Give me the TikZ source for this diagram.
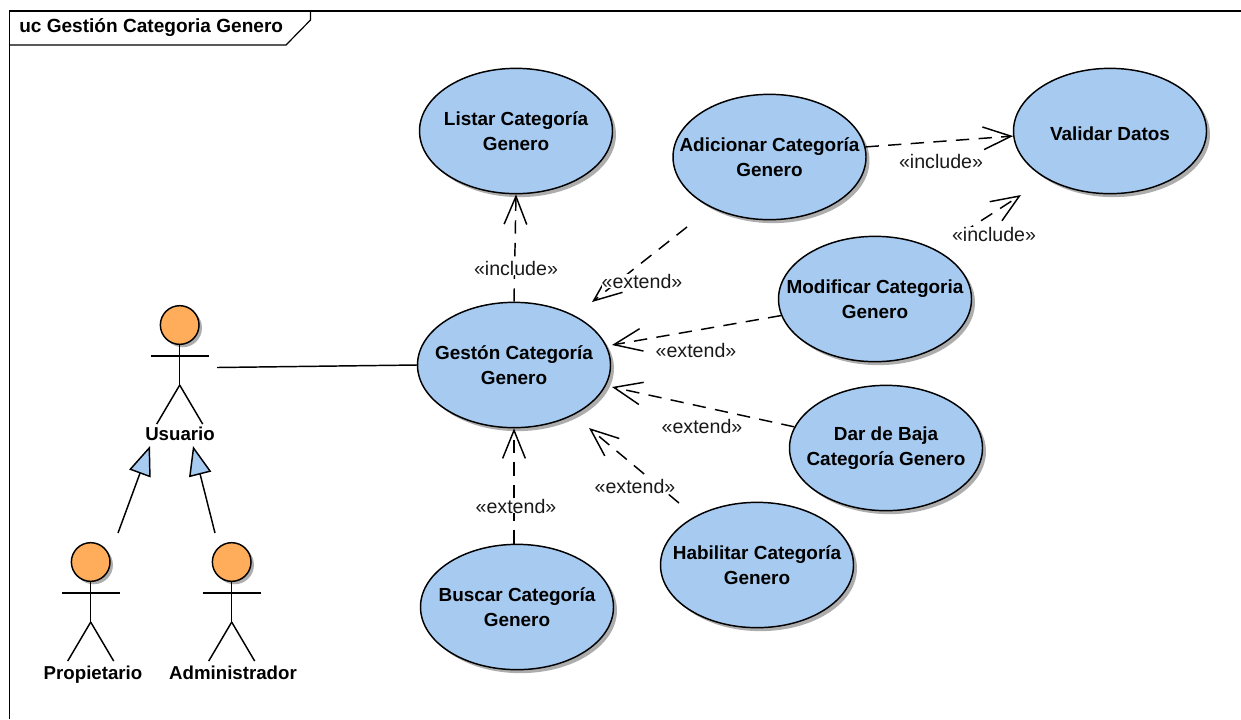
\documentclass[tikz,border=0pt]{standalone}
\usepackage{fontspec}
\setmainfont{Liberation Sans}
\usetikzlibrary{shapes.geometric,arrows.meta,shadows,calc}
\definecolor{ucblue}{HTML}{A6CAF0}
\definecolor{actorfill}{HTML}{FFAD5B}
\tikzset{
  usecase/.style={ellipse,draw=black,line width=1.1pt,fill=ucblue,minimum width=144.75pt,minimum height=94pt,inner sep=-20pt,align=center,
    font=\fontsize{14.2}{18.4}\selectfont\bfseries,
    execute at begin node={\rule{0pt}{14pt}},
    drop shadow={shadow xshift=2.6pt,shadow yshift=-2.6pt,fill=black!32,opacity=1}},
  dep/.style={line width=1.1pt,dash pattern=on 10pt off 7pt,-{Straight Barb[length=21pt,width=17pt,line width=1.1pt]}},
  stereo/.style={fill=white,inner sep=0pt,font=\fontsize{14.7}{16}\selectfont,text=black!90},
  stick/.style={line width=1.1pt},
  actorlabel/.style={anchor=base,inner sep=0pt,font=\fontsize{14}{16}\selectfont\bfseries},
  gen/.style={line width=1.1pt,-{Triangle[open,length=22pt,width=17pt,fill=ucblue,line width=1.1pt]}},
}
\newcommand{\stickman}[3]{% name, head x, head y
  \node[circle,draw=black,line width=1.1pt,fill=actorfill,minimum size=29pt,inner sep=0pt,
    drop shadow={shadow xshift=2.2pt,shadow yshift=-2.2pt,fill=black!32,opacity=1}] (#1) at (#2,#3) {};
  \draw[stick] (#1.south) -- ++(0,40) coordinate (#1hip);
  \draw[stick] ($(#1.south)+(-29,11)$) -- ++(58,0);
  \draw[stick] (#1hip) -- ++(-23,39);
  \draw[stick] (#1hip) -- ++(23,39);
}
\begin{document}
\begin{tikzpicture}[x=0.75pt,y=-0.75pt]
\useasboundingbox (0,0) rectangle (1241,719);
% frame
\draw[line width=0.9pt] (1241,11) -- (9.5,11) -- (9.5,719);
\node[anchor=west,inner sep=0pt,font=\fontsize{14.3}{16}\selectfont\bfseries] (frametitle) at (19,28) {uc Gestión Categoria Genero};
\draw[line width=0.9pt] (9.5,45) -- (286,45) -- (310.5,20) -- (310.5,11);
% use cases
\node[usecase] (listar) at (516,131) {Listar Categoría\\Genero};
\node[usecase] (adic) at (769.5,157) {Adicionar Categoría\\Genero};
\node[usecase] (valid) at (1110,131) {Validar Datos};
\node[usecase] (modif) at (875,299) {Modificar Categoria\\Genero};
\node[usecase] (gest) at (514,365) {Gestón Categoría\\Genero};
\node[usecase] (baja) at (886,448) {Dar de Baja\\Categoría Genero};
\node[usecase] (habil) at (757,565) {Habilitar Categoría\\Genero};
\node[usecase] (buscar) at (517,607) {Buscar Categoría\\Genero};
% actors
\stickman{usuario}{179.7}{325}
\stickman{propi}{90.7}{562}
\stickman{admin}{231.7}{562}
\node[actorlabel] (usuariotxt) at (180,440.5) {Usuario};
\node[actorlabel] (propitxt) at (93,679) {Propietario};
\node[actorlabel] (admintxt) at (233,679) {Administrador};
% free ends
\coordinate (assocstart) at (217,367.5);
\coordinate (gen1a) at (118,533);
\coordinate (gen1b) at (150,446);
\coordinate (gen2a) at (215,533);
\coordinate (gen2b) at (193,446);
\coordinate (adicend) at (687,227);
\coordinate (gesttop) at (592,302);
\coordinate (gestup) at (612,345);
\coordinate (gestdown) at (612,387);
\coordinate (habend) at (679,503);
\coordinate (gestlow) at (589,428);
\coordinate (inc2start) at (962,233);
\coordinate (inc2tip) at (1021,195);
% connectors
\draw[stick] (assocstart) -- (gest.west);
\draw[gen] (gen1a) -- (gen1b);
\draw[gen] (gen2a) -- (gen2b);
\draw[dep] (gest.north) -- (listar.south);
\draw[dep] (adicend) -- (gesttop);
\draw[dep] (modif.190) -- (gestup);
\draw[dep] (baja.167) -- (gestdown);
\draw[dep] (habend) -- (gestlow);
\draw[dep] (buscar.north -| gest.south) -- (gest.south);
\draw[dep] (adic.6) -- (valid.183);
\draw[dep] (inc2start) -- (inc2tip);
% labels
\node[stereo] (l1) at (516,268) {«include»};
\node[stereo] (l2) at (642,281) {«extend»};
\node[stereo] (l3) at (696,350) {«extend»};
\node[stereo] (l4) at (702,426) {«extend»};
\node[stereo] (l5) at (635,486) {«extend»};
\node[stereo] (l6) at (516,506) {«extend»};
\node[stereo] (l7) at (941,161) {«include»};
\node[stereo] (l8) at (994,234) {«include»};
\end{tikzpicture}
\end{document}
